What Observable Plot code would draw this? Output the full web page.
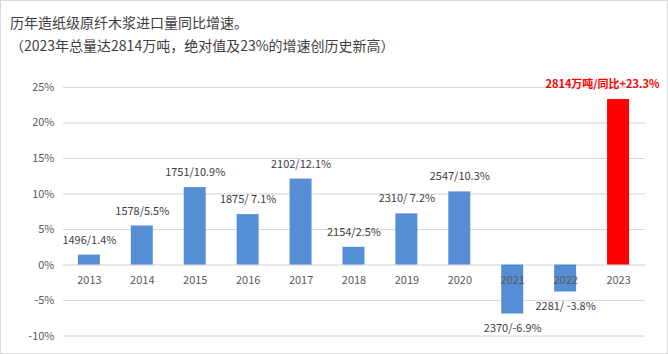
<!DOCTYPE html>
<html>
<head>
<meta charset="utf-8">
<script src="https://cdn.jsdelivr.net/npm/d3@7"></script>
<script src="https://cdn.jsdelivr.net/npm/@observablehq/plot@0.6"></script>
<style>
  html, body { margin: 0; padding: 0; background: #fff; }
  #wrap { position: relative; width: 668px; height: 354px; box-sizing: border-box; border: 1px solid #d9d9d9; overflow: hidden; font-family: "Noto Sans CJK SC", sans-serif; }
  #title { position: absolute; left: 9px; top: 10px; font-size: 14px; line-height: 23px; color: #404040; }
  #chart { position: absolute; left: -1px; top: 59px; }
</style>
</head>
<body>
<div id="wrap">
  <div id="title">历年造纸级原纤木浆进口量同比增速。<br>（2023年总量达2814万吨，绝对值及23%的增速创历史新高）</div>
  <div id="chart"></div>
</div>
<script>
const years = ["2013","2014","2015","2016","2017","2018","2019","2020","2021","2022","2023"];
const growth = [1.4, 5.5, 10.9, 7.1, 12.1, 2.5, 7.2, 10.3, -6.9, -3.8, 23.3];
const labels = ["1496/1.4%","1578/5.5%","1751/10.9%","1875/ 7.1%","2102/12.1%","2154/2.5%","2310/ 7.2%","2547/10.3%","2370/-6.9%","2281/ -3.8%","2814万吨/同比+23.3%"];
const highlight = ["2023"];
const yTicks = [-10, -5, 0, 5, 10, 15, 20, 25];

const data = years.map((y, i) => ({year: y, g: growth[i], label: labels[i], hi: highlight.includes(y)}));
const normal = data.filter(d => !d.hi);
const hi = data.filter(d => d.hi);

const font = "Noto Sans CJK SC, sans-serif";
const chart = Plot.plot({
  width: 668,
  height: 295,
  marginTop: 27,
  marginBottom: 19,
  marginLeft: 63,
  marginRight: 22,
  style: {fontFamily: font, fontSize: "11px", color: "#595959", background: "transparent"},
  x: {domain: years, paddingInner: 0.58, paddingOuter: 0.29, axis: null},
  y: {domain: [-10, 25], ticks: yTicks, tickFormat: d => d + "%", tickSize: 0, tickPadding: 9, grid: true, label: null},
  marks: [
    Plot.gridY(yTicks, {stroke: "#d9d9d9", strokeOpacity: 1}),
    Plot.barY(normal, {x: "year", y: "g", fill: "#558ED5"}),
    Plot.barY(hi, {x: "year", y: "g", fill: "#FF0000"}),
    Plot.text(data, {x: "year", y: () => 0, text: "year", dy: 15, fill: "#595959", fontSize: 11}),
    Plot.text(normal.filter(d => d.g >= 0), {x: "year", y: "g", text: "label", dy: -15, fill: "#404040", fontSize: 11}),
    Plot.text(normal.filter(d => d.g < 0), {x: "year", y: "g", text: "label", dy: 14, fill: "#404040", fontSize: 11}),
    Plot.text(hi, {x: "year", y: "g", text: "label", dy: -15, dx: 41, textAnchor: "end", fill: "#FF0000", fontWeight: "bold", fontSize: 11})
  ]
});
document.getElementById("chart").appendChild(chart);
</script>
</body>
</html>
